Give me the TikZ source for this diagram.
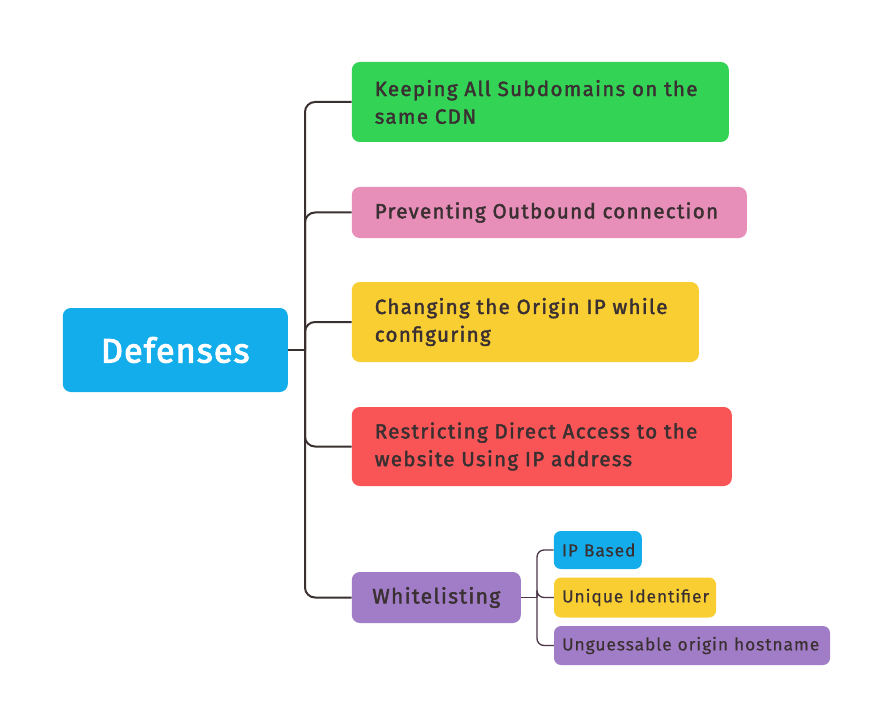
\documentclass[tikz,border=0pt]{standalone}
\usepackage{fontspec}
\setmainfont{Fira Sans}
\newfontfamily\medfont{Fira Sans}[LetterSpace=6.5, FakeBold=2]
\newfontfamily\subfont{Fira Sans}[LetterSpace=5, FakeBold=0.3]
\newfontfamily\rootfont{Fira Sans}[LetterSpace=3.5, FakeBold=3]
\usetikzlibrary{calc}
\definecolor{txt}{HTML}{3A3032}
\definecolor{cblue}{HTML}{14ADEB}
\definecolor{cgreen}{HTML}{33D356}
\definecolor{cpink}{HTML}{E78FB8}
\definecolor{cyellow}{HTML}{F9CE33}
\definecolor{cred}{HTML}{FA5556}
\definecolor{cpurple}{HTML}{A07DC6}
\definecolor{cline}{HTML}{3B3030}
\definecolor{csub}{HTML}{4A3648}
\tikzset{
  mainbox/.style={rounded corners=8pt, inner xsep=23pt, inner ysep=0pt, align=left,
    text=txt, font=\medfont\fontsize{20.5}{27.7}\selectfont},
  subbox/.style={rounded corners=7pt, inner xsep=8pt, inner ysep=0pt, align=left,
    text=txt, font=\subfont\fontsize{17.5}{22}\selectfont},
  conn/.style={draw=cline, line width=2pt, rounded corners=10pt},
  subconn/.style={draw=csub, line width=1.3pt, rounded corners=7pt},
}
\begin{document}
\begin{tikzpicture}[x=1pt,y=-1pt]
\useasboundingbox (0,0) rectangle (893,727);
\fill[white] (0,0) rectangle (893,727);
% root
\node[rounded corners=8pt, fill=cblue, minimum width=225pt, minimum height=84pt, text=white,
  font=\rootfont\fontsize{34}{40}\selectfont, inner sep=0pt] (def) at (175.3,350) {Defenses};
% children
\node[mainbox, fill=cgreen, minimum width=377pt, minimum height=80pt, text width=331pt] (c1) at (540.3,102) {Keeping All Subdomains on the\\same CDN};
\node[mainbox, fill=cpink, minimum width=395pt, minimum height=51pt, text width=349pt] (c2) at (549.3,212.5) {\mbox{Preventing Outbound connection}};
\node[mainbox, fill=cyellow, minimum width=347pt, minimum height=80pt, text width=301pt] (c3) at (525.3,322) {Changing the Origin IP while\\configuring};
\node[mainbox, fill=cred, minimum width=380pt, minimum height=79pt, text width=334pt] (c4) at (541.8,446.5) {Restricting Direct Access to the\\website Using IP address};
\node[rounded corners=8pt, fill=cpurple, minimum width=169pt, minimum height=51pt, inner sep=0pt,
  text=txt, font=\medfont\fontsize{21}{26}\selectfont] (c5) at (436.3,597.5) {Whitelisting};
% grandchildren
\node[subbox, fill=cblue, minimum width=88pt, minimum height=38pt, text width=72pt] (g1) at (597.8,550) {\mbox{IP Based}};
\node[subbox, fill=cyellow, minimum width=162pt, minimum height=40pt, text width=146pt] (g2) at (635,597.5) {\mbox{Unique Identifier}};
\node[subbox, fill=cpurple, minimum width=276pt, minimum height=39pt, text width=260pt] (g3) at (692,645.5) {\mbox{Unguessable origin hostname}};
% connectors
\coordinate (j) at ([xshift=17pt]def.east);
\draw[conn] (def.east) -- (j);
\foreach \c in {c1,c2,c3,c4,c5} { \draw[conn] (j) |- (\c.west); }
\coordinate (k) at ([xshift=16pt]c5.east);
\draw[subconn] (c5.east) -- (k);
\foreach \g in {g1,g2,g3} { \draw[subconn] (k) |- (\g.west); }
\end{tikzpicture}
\end{document}
